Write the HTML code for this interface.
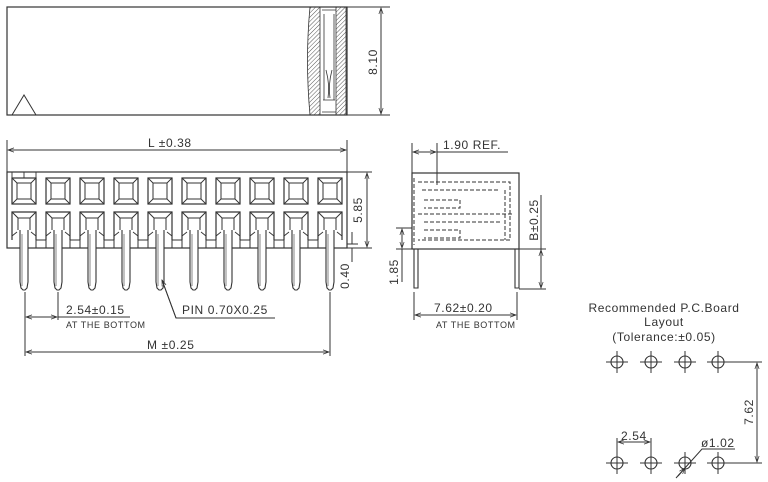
<!DOCTYPE html>
<html><head><meta charset="utf-8"><style>
html,body{margin:0;padding:0;background:#fff;}
svg{display:block;}
text{font-family:"Liberation Sans",sans-serif;fill:#333;letter-spacing:0.6px;}
</style></head><body>
<svg width="768" height="482" viewBox="0 0 768 482" xmlns="http://www.w3.org/2000/svg">
<defs>
<marker id="a" viewBox="0 0 10 10" refX="10" refY="5" markerWidth="8" markerHeight="6" orient="auto-start-reverse" markerUnits="userSpaceOnUse"><path d="M0,1.5 L10,5 L0,8.5" fill="none" stroke="#333" stroke-width="1.2"/></marker>
<pattern id="h" width="3" height="3" patternUnits="userSpaceOnUse" patternTransform="rotate(45)"><line x1="0" y1="0" x2="0" y2="3" stroke="#555" stroke-width="1"/></pattern>
<g id="cell">
<rect x="0" y="0" width="24" height="26" fill="none" stroke="#333" stroke-width="1.2"/>
<rect x="5" y="5" width="14" height="16" fill="none" stroke="#333" stroke-width="1"/>
<path d="M0,0 L5,5 M24,0 L19,5 M0,26 L5,21 M24,26 L19,21" stroke="#333" stroke-width="0.9"/>
</g>
<g id="lcell">
<path d="M0,28 L0,0 L24,0 L24,28" fill="none" stroke="#333" stroke-width="1.2"/>
<path d="M0,0 L6,6 L18,6 L24,0 M6,6 L6,18 M18,6 L18,18" fill="none" stroke="#333" stroke-width="1"/>
<path d="M0,24 L5,20 M24,24 L19,20" stroke="#333" stroke-width="0.9"/>
</g>
<g id="pin">
<path d="M8,18 L8,70 L9,76 L11,78 L13,78 L15,76 L16,70 L16,18" fill="#fff" stroke="#333" stroke-width="1.1"/>
<line x1="10" y1="22" x2="10" y2="74" stroke="#333" stroke-width="0.6"/>
</g>
<g id="hole">
<circle cx="0" cy="0" r="6" fill="none" stroke="#333" stroke-width="1.1"/>
<path d="M-11,0 H11 M0,-11 V11" stroke="#333" stroke-width="1"/>
</g>
</defs>
<g stroke="#333" fill="none" stroke-width="1.2">
<rect x="7" y="7" width="340" height="108"/>
<path d="M12,115 L24,95 L36,115" stroke-width="1"/>
<path d="M310,7 L320,7 L320,115 L310,115 Q305,60 310,7 Z" fill="url(#h)" stroke-width="0.8"/>
<path d="M336,7 L346,7 L346,115 L336,115 Z" fill="url(#h)" stroke-width="0.8"/>
<path d="M322,10 H336 M322,112 H336 M324,14 V100 M334,14 V100 M326,70 Q330,85 328,98 M332,70 Q328,85 330,98 M323,100 H335" stroke-width="0.8"/>
<path d="M347,7 H390 M347,115 H390" stroke-width="1"/>
<line x1="381" y1="8" x2="381" y2="114" stroke-width="1" marker-start="url(#a)" marker-end="url(#a)"/>
<path d="M7,140 V172 M347,140 V172" stroke-width="1"/>
<line x1="8" y1="150" x2="346" y2="150" stroke-width="1" marker-start="url(#a)" marker-end="url(#a)"/>
<rect x="7" y="172" width="340" height="76"/>
<path d="M12,172 V178 H36 V172 M24,172 V178" stroke-width="0.9"/>
</g>
<g>
<use href="#cell" x="12" y="178"/><use href="#cell" x="46" y="178"/><use href="#cell" x="80" y="178"/><use href="#cell" x="114" y="178"/><use href="#cell" x="148" y="178"/><use href="#cell" x="182" y="178"/><use href="#cell" x="216" y="178"/><use href="#cell" x="250" y="178"/><use href="#cell" x="284" y="178"/><use href="#cell" x="318" y="178"/>
<use href="#lcell" x="12" y="212"/><use href="#lcell" x="46" y="212"/><use href="#lcell" x="80" y="212"/><use href="#lcell" x="114" y="212"/><use href="#lcell" x="148" y="212"/><use href="#lcell" x="182" y="212"/><use href="#lcell" x="216" y="212"/><use href="#lcell" x="250" y="212"/><use href="#lcell" x="284" y="212"/><use href="#lcell" x="318" y="212"/>
<use href="#pin" x="12" y="212"/><use href="#pin" x="46" y="212"/><use href="#pin" x="80" y="212"/><use href="#pin" x="114" y="212"/><use href="#pin" x="148" y="212"/><use href="#pin" x="182" y="212"/><use href="#pin" x="216" y="212"/><use href="#pin" x="250" y="212"/><use href="#pin" x="284" y="212"/><use href="#pin" x="318" y="212"/>
</g>
<g stroke="#333" fill="none" stroke-width="1">
<path d="M36,248 V240 H46 V248 M70,248 V240 H80 V248 M104,248 V240 H114 V248 M138,248 V240 H148 V248 M172,248 V240 H182 V248 M206,248 V240 H216 V248 M240,248 V240 H250 V248 M274,248 V240 H284 V248 M308,248 V240 H318 V248"/>
<path d="M347,172 H372 M347,248 H372"/>
<line x1="367" y1="173" x2="367" y2="247" marker-start="url(#a)" marker-end="url(#a)"/>
<path d="M347,244 H358 M352,232 V244 M352,248 V262"/>
<path d="M25,292 V320 M58,292 V320"/>
<line x1="26" y1="317" x2="57" y2="317" marker-start="url(#a)" marker-end="url(#a)"/>
<path d="M58,317 H130"/>
<path d="M162,280 L176,318 H275"/>
<line x1="176" y1="318" x2="162" y2="280" marker-end="url(#a)"/>
<path d="M25,300 V356 M330,292 V356"/>
<line x1="26" y1="352" x2="329" y2="352" marker-start="url(#a)" marker-end="url(#a)"/>
<rect x="412" y="173" width="107" height="76" stroke-width="1.2"/>
<path d="M412,143 V173 M437,143 V185"/>
<line x1="413" y1="152" x2="436" y2="152" marker-start="url(#a)" marker-end="url(#a)"/>
<path d="M437,152 H508"/>
<g stroke-dasharray="4,2" stroke-width="1">
<path d="M418,182 H510 V240 H418"/>
<path d="M422,190 H500 M424,200 H460 V208 H424 M418,214 H512 M424,222 H500 M424,230 H460 V238 H424 M505,190 V240 M414,178 V245"/>
</g>
<path d="M414,249 V288 H418 V249 M515,249 V288 H519 V249" stroke-width="1.1"/>
<path d="M396,228 H412 M396,249 H412"/>
<line x1="402" y1="229" x2="402" y2="248" marker-start="url(#a)" marker-end="url(#a)"/>
<path d="M402,249 V282"/>
<path d="M519,249 H546 M519,289 H546"/>
<line x1="541" y1="250" x2="541" y2="288" marker-start="url(#a)" marker-end="url(#a)"/>
<path d="M541,195 V250"/>
<path d="M414,292 V320 M517,292 V320"/>
<line x1="415" y1="315" x2="516" y2="315" marker-start="url(#a)" marker-end="url(#a)"/>
<path d="M723,362 H762 M723,463 H762"/>
<line x1="757" y1="363" x2="757" y2="462" marker-start="url(#a)" marker-end="url(#a)"/>
<path d="M617,452 V438 M651,452 V438"/>
<line x1="618" y1="442" x2="650" y2="442" marker-start="url(#a)" marker-end="url(#a)"/>
<path d="M676,478 L702,449 H735"/>
<line x1="678" y1="476" x2="685" y2="468" marker-end="url(#a)"/>
</g>
<use href="#hole" x="617" y="362"/><use href="#hole" x="651" y="362"/><use href="#hole" x="685" y="362"/><use href="#hole" x="718" y="362"/>
<use href="#hole" x="617" y="463"/><use href="#hole" x="651" y="463"/><use href="#hole" x="685" y="463"/><use href="#hole" x="718" y="463"/>
<g font-size="12">
<text x="148" y="147">L  ±0.38</text>
<text x="147" y="349">M  ±0.25</text>
<text x="66" y="314">2.54±0.15</text>
<text x="66" y="328" font-size="9">AT THE BOTTOM</text>
<text x="182" y="314">PIN  0.70X0.25</text>
<text x="443" y="149">1.90  REF.</text>
<text x="434" y="312">7.62±0.20</text>
<text x="436" y="328" font-size="9">AT THE BOTTOM</text>
<text transform="translate(377,62) rotate(-90)" text-anchor="middle">8.10</text>
<text transform="translate(362,210) rotate(-90)" text-anchor="middle">5.85</text>
<text transform="translate(349,276) rotate(-90)" text-anchor="middle">0.40</text>
<text transform="translate(398,272) rotate(-90)" text-anchor="middle">1.85</text>
<text transform="translate(538,220) rotate(-90)" text-anchor="middle">B±0.25</text>
<text transform="translate(753,412) rotate(-90)" text-anchor="middle">7.62</text>
<text x="664" y="312" text-anchor="middle">Recommended  P.C.Board</text>
<text x="664" y="326" text-anchor="middle">Layout</text>
<text x="664" y="341" text-anchor="middle">(Tolerance:±0.05)</text>
<text x="621" y="440">2.54</text>
<text x="701" y="447">ø1.02</text>
</g>
</svg>
</body></html>
